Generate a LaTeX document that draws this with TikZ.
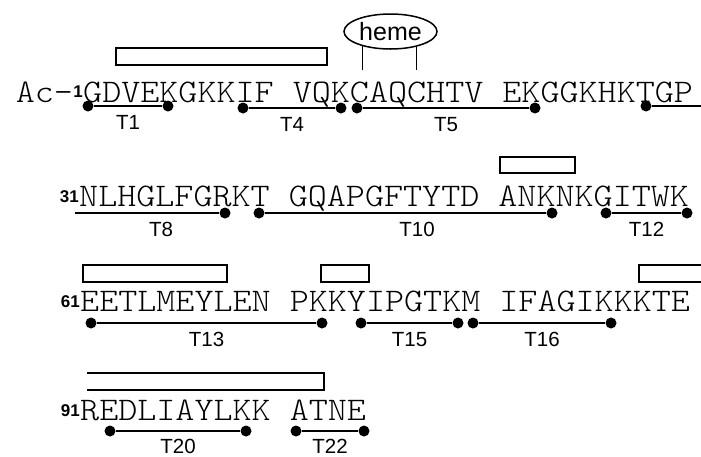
\documentclass[tikz,border=0pt]{standalone}
\usepackage{fontspec}
\setmainfont{Liberation Sans}
\newfontfamily\seqfont[FakeStretch=1.1]{lmmonolt10-regular.otf}
\usetikzlibrary{shapes.geometric}
\begin{document}
\begin{tikzpicture}[x=1pt,y=-1pt]
\tikzset{seq/.style={font=\seqfont\fontsize{33}{33}\selectfont,inner sep=0pt,anchor=base west},
num/.style={font=\bfseries\fontsize{17}{17}\selectfont,inner sep=0pt,anchor=base east},
helix/.style={draw,line width=2.6pt},
seg/.style={line width=2.5pt},
dot/.style={circle,fill,inner sep=0pt,minimum size=11pt},
lbl/.style={font=\fontsize{20.5}{21}\selectfont,inner sep=0pt,anchor=north,yshift=-8pt},
tick/.style={line width=1.3pt}}
\useasboundingbox (0,0) rectangle (701,456);
\node[seq] (seqA) at (83,102) {GDVEKGKKIF VQKCAQCHTV EKGGKHKTGP};
\node[num] (numA) at ([yshift=5pt]seqA.base west) {1};
\node[seq,anchor=base east] (ac) at (numA.west |- seqA.base) {Ac-};
\node[seq] (seqB) at (79,206) {NLHGLFGRKT GQAPGFTYTD ANKNKGITWK};
\node[num] (numB) at ([yshift=4pt]seqB.base west) {31};
\node[seq] (seqC) at (80,311) {EETLMEYLEN PKKYIPGTKM IFAGIKKKTE};
\node[num] (numC) at ([yshift=4pt]seqC.base west) {61};
\node[seq] (seqD) at (80,420) {REDLIAYLKK ATNE};
\node[num] (numD) at ([yshift=4pt]seqD.base west) {91};
\node[draw,ellipse,line width=1.5pt,minimum width=93pt,minimum height=35pt,inner sep=0pt,font=\fontsize{25}{25}\selectfont] (heme) at (390.5,31.5) {heme};
\coordinate (cys) at (390,70);
\draw[tick] (heme.208) -- (heme.208 |- cys);
\draw[tick] (heme.330) -- (heme.330 |- cys);
\draw[helix] (116,48) rectangle (327,65);
\draw[helix] (500,157) rectangle (575,173);
\draw[helix] (83,265) rectangle (227,282);
\draw[helix] (321,265) rectangle (369,282);
\draw[helix] (705,265) -- (639,265) -- (639,282) -- (705,282);
\draw[helix] (87,373) -- (324,373) -- (324,390) -- (87,390);
\node[dot] (t1a) at (88,106) {};
\node[dot] (t1b) at (168,106) {};
\draw[seg] (t1a) -- (t1b) node[lbl,midway] {T1};
\node[dot] (t4a) at (243,108) {};
\node[dot] (t4b) at (341,108) {};
\draw[seg] (t4a) -- (t4b) node[lbl,midway] {T4};
\node[dot] (t5a) at (357,108) {};
\node[dot] (t5b) at (535,108) {};
\draw[seg] (t5a) -- (t5b) node[lbl,midway] {T5};
\node[dot] (t7a) at (646,106) {};
\coordinate (t7b) at (705,106);
\draw[seg] (t7a) -- (t7b);
\coordinate (t8a) at (75,213);
\node[dot] (t8b) at (225,213) {};
\draw[seg] (t8a) -- (t8b) node[lbl,midway,xshift=14pt] {T8};
\node[dot] (t10a) at (259,213) {};
\node[dot] (t10b) at (552,213) {};
\draw[seg] (t10a) -- (t10b) node[lbl,midway,xshift=11.5pt] {T10};
\node[dot] (t12a) at (606,213) {};
\node[dot] (t12b) at (687,213) {};
\draw[seg] (t12a) -- (t12b) node[lbl,midway] {T12};
\node[dot] (t13a) at (91,323) {};
\node[dot] (t13b) at (322,323) {};
\draw[seg] (t13a) -- (t13b) node[lbl,midway] {T13};
\node[dot] (t15a) at (361,323) {};
\node[dot] (t15b) at (458,323) {};
\draw[seg] (t15a) -- (t15b) node[lbl,midway] {T15};
\node[dot] (t16a) at (473,323) {};
\node[dot] (t16b) at (611,323) {};
\draw[seg] (t16a) -- (t16b) node[lbl,midway] {T16};
\node[dot] (t20a) at (110,431) {};
\node[dot] (t20b) at (246,431) {};
\draw[seg] (t20a) -- (t20b) node[lbl,midway,yshift=1.5pt] {T20};
\node[dot] (t22a) at (296,431) {};
\node[dot] (t22b) at (364,431) {};
\draw[seg] (t22a) -- (t22b) node[lbl,midway,yshift=1.5pt] {T22};
\end{tikzpicture}
\end{document}
